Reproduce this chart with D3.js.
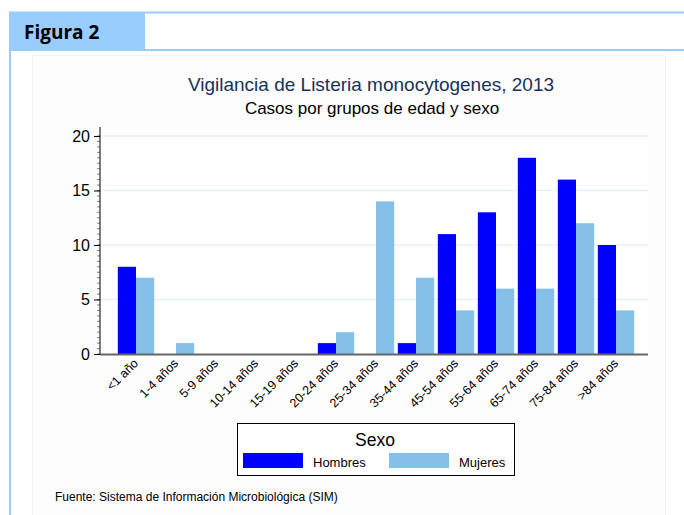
<!DOCTYPE html>
<html><head><meta charset="utf-8">
<script src="https://cdn.jsdelivr.net/npm/d3@7"></script>
<style>body{margin:0;background:#fff;} svg{display:block;font-family:"Liberation Sans",Arial,sans-serif;}</style>
</head><body>
<script>
const categories = ["<1 año","1-4 años","5-9 años","10-14 años","15-19 años","20-24 años","25-34 años","35-44 años","45-54 años","55-64 años","65-74 años","75-84 años",">84 años"];
const hombres = [8,0,0,0,0,1,0,1,11,13,18,16,10];
const mujeres = [7,1,0,0,0,2,14,7,4,6,6,12,4];
const yTicks = [0,5,10,15,20];
const seriesNames = ["Hombres","Mujeres"];
const colors = ["#0000ff","#85c0e9"];

const W=684,H=515;
const svg=d3.select("body").append("svg").attr("width",W).attr("height",H);

// frame
svg.append("rect").attr("x",32.5).attr("y",55.5).attr("width",633).attr("height",470).attr("fill","#fdfdfd").attr("stroke","#f3f3f3");
svg.append("rect").attr("x",10).attr("y",13).attr("width",135).attr("height",37).attr("fill","#99ccff");
svg.append("line").attr("x1",9).attr("x2",W).attr("y1",12.5).attr("y2",12.5).attr("stroke","#99ccff").attr("stroke-width",2);
svg.append("line").attr("x1",9).attr("x2",W).attr("y1",50).attr("y2",50).attr("stroke","#99ccff").attr("stroke-width",2);
svg.append("line").attr("x1",10).attr("x2",10).attr("y1",12).attr("y2",H).attr("stroke","#99ccff").attr("stroke-width",2);
svg.append("text").attr("x",24).attr("y",39).attr("font-family","Open Sans, Lato, sans-serif").attr("font-weight","bold").attr("font-size",19).attr("fill","#000").text("Figura 2");

// titles
svg.append("text").attr("x",371).attr("y",91).attr("text-anchor","middle").attr("font-size",19).attr("fill","#1a3157").text("Vigilancia de Listeria monocytogenes, 2013");
svg.append("text").attr("x",372).attr("y",114).attr("text-anchor","middle").attr("font-size",17).attr("fill","#000").text("Casos por grupos de edad y sexo");

const x0=d3.scaleBand().domain(categories).range([116,636]).paddingInner(0).paddingOuter(0);
const x1=d3.scaleBand().domain(seriesNames).range([0,x0.bandwidth()]).paddingInner(0).paddingOuter(0.1);
const y=d3.scaleLinear().domain([0,20]).range([354,136]);

// plot background
svg.append("rect").attr("x",100).attr("y",127).attr("width",548).attr("height",227).attr("fill","#fff");

// grid
svg.append("g").selectAll("line").data(yTicks.filter(d=>d>0)).join("line")
 .attr("x1",100).attr("x2",648).attr("y1",d=>y(d)).attr("y2",d=>y(d)).attr("stroke","#e8f0f3").attr("stroke-width",1.5);

// bars
const data=categories.map((c,i)=>({c,vals:[hombres[i],mujeres[i]]}));
const g=svg.append("g");
data.forEach(d=>{
  seriesNames.forEach((s,j)=>{
    const v=d.vals[j]; if(!v) return;
    g.append("rect").attr("x",x0(d.c)+x1(s)).attr("width",x1.bandwidth()).attr("y",y(v)).attr("height",y(0)-y(v)).attr("fill",colors[j]);
  });
});

// y axis
const minor=d3.range(0,20.01,0.5);
svg.append("g").selectAll("line").data(minor).join("line").attr("x1",97).attr("x2",100).attr("y1",d=>y(d)).attr("y2",d=>y(d)).attr("stroke","#333").attr("stroke-width",0.6);
const ya=svg.append("g").attr("transform","translate(100,0)").call(d3.axisLeft(y).tickValues(yTicks).tickSize(6).tickSizeOuter(0));
ya.select(".domain").attr("d","M0,127V354").attr("stroke","#000");
ya.selectAll("text").attr("font-size",16).attr("fill","#000").attr("font-family","Liberation Sans, Arial, sans-serif").attr("dx",-1);

// x axis
svg.append("line").attr("x1",100).attr("x2",648).attr("y1",354.5).attr("y2",354.5).attr("stroke","#666").attr("stroke-width",2);
svg.append("g").selectAll("text").data(categories).join("text")
 .attr("transform",d=>`translate(${x0(d)+x0.bandwidth()/2+3},${364}) rotate(-45)`)
 .attr("text-anchor","end").attr("font-size",12.5).attr("fill","#000").text(d=>d);

// legend
svg.append("rect").attr("x",237.5).attr("y",423.5).attr("width",277).attr("height",52).attr("fill","#fff").attr("stroke","#000");
svg.append("text").attr("x",375).attr("y",446).attr("text-anchor","middle").attr("font-size",17.5).text("Sexo");
const lx=[243,389];
seriesNames.forEach((s,j)=>{
  svg.append("rect").attr("x",lx[j]).attr("y",453).attr("width",60).attr("height",15).attr("fill",colors[j]);
  svg.append("text").attr("x",lx[j]+70).attr("y",467).attr("font-size",13).text(s);
});

svg.append("text").attr("x",55).attr("y",501).attr("font-size",12).text("Fuente: Sistema de Información Microbiológica (SIM)");
</script>
</body></html>
